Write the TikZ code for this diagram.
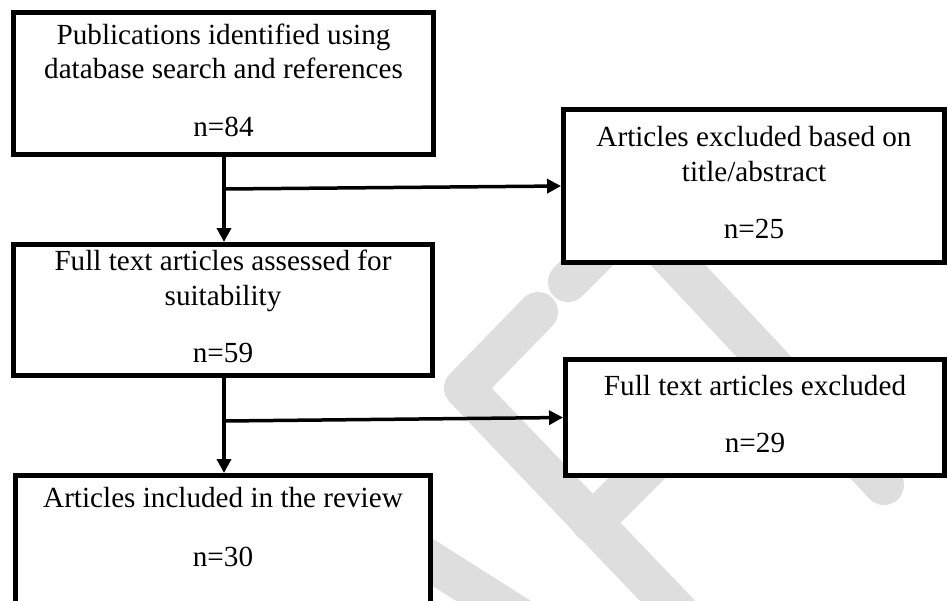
\documentclass[tikz,border=0pt]{standalone}
\usepackage{fontspec}
\setmainfont{Liberation Serif}
\usetikzlibrary{arrows.meta,calc}
\definecolor{wmgrey}{RGB}{222,222,222}
\tikzset{box/.style = {draw,fill=white,line width=0.1cm,align=center,inner sep=0pt,text depth=4pt,
                       font=\fontsize{16.6}{19.8}\selectfont},
         flow/.style = {line width=0.07cm,-{Triangle[length=0.28cm,width=0.28cm]}},
         wmark/.style = {wmgrey,line width=0.8cm,line cap=round,line join=round}}

\begin{document}
\begin{tikzpicture}[x=0.02cm,y=-0.02cm]
    \useasboundingbox (0,0) rectangle (948,600);
    \clip (0,0) rectangle (948,600);
    % watermark behind the boxes
    \draw[wmark] (538,312) -- (464,388) -- (705,640);
    \draw[wmark] (592,523) -- (730,385);
    \draw[wmark] (568,282) -- (620,230);
    \draw[wmark] (635,219) -- (884,485);
    \draw[wmark] (350,510) -- (620,681);
    % boxes
    \node[box,minimum width=8.4cm,minimum height=2.84cm] (pub) at (223.5,83.5)
        {Publications identified using\\database search and references\\[13pt]n=84};
    \node[box,minimum width=7.62cm,minimum height=3.06cm] (exc1) at (754,186)
        {Articles excluded based on\\title/abstract\\[13pt]n=25};
    \node[box,minimum width=8.38cm,minimum height=2.62cm] (full) at (223,310)
        {Full text articles assessed for\\suitability\\[13pt]n=59};
    \node[box,minimum width=7.58cm,minimum height=2.32cm] (exc2) at (755,417.5)
        {Full text articles excluded\\[13pt]n=29};
    \node[box,minimum width=8.3cm,anchor=north,inner ysep=6.5pt] (incl) at (223,473)
        {Articles included in the review\\[14pt]n=30\\[40pt]\mbox{}};
    % connectors
    \coordinate (j1) at (224,189);
    \coordinate (j2) at (224,421);
    \draw[flow] (pub.south -| j1) -- (j1 |- full.north);
    \draw[flow] (j1) -- (exc1.west);
    \draw[flow] (full.south -| j2) -- (j2 |- incl.north);
    \draw[flow] (j2) -- (exc2.west);
\end{tikzpicture}
\end{document}
